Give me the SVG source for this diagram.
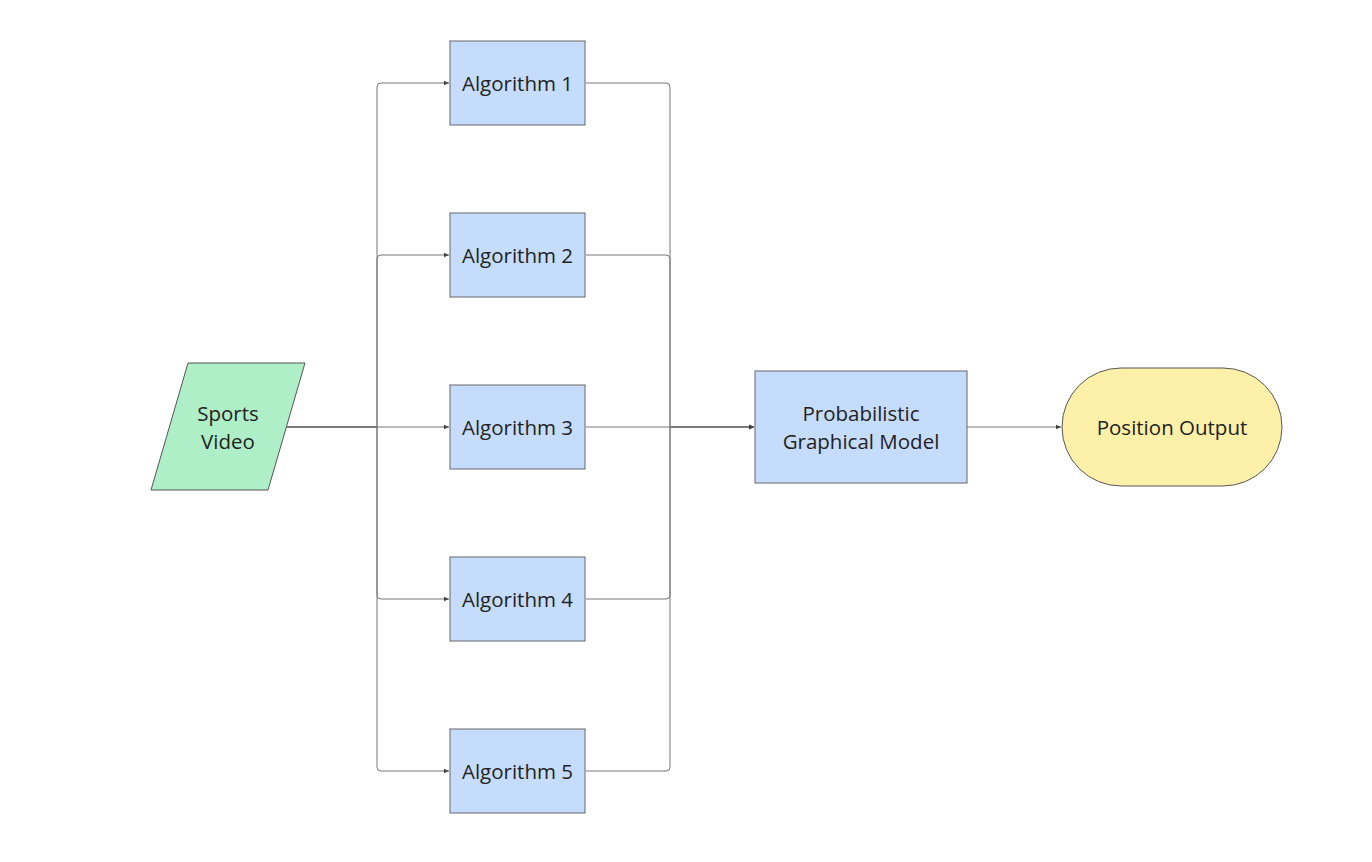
<svg xmlns="http://www.w3.org/2000/svg" width="1372" height="862" viewBox="0 0 1372 862">
<style>
.box{fill:#c6dcfc;stroke:#666;stroke-width:1}
.lbl{font-family:"Open Sans","Noto Sans",sans-serif;font-size:20.5px;fill:#222;text-anchor:middle;dominant-baseline:central}
.e{fill:none;stroke:#777;stroke-width:1}
</style>
<defs>
<marker id="arr" markerWidth="6" markerHeight="6" refX="5" refY="3" orient="auto" markerUnits="userSpaceOnUse">
<path d="M0,0.8 L5,3 L0,5.2 Z" fill="#444"/>
</marker>
</defs>
<rect width="1372" height="862" fill="#fff"/>
<g id="connectors">
<path class="e" d="M287,427 H377 V87 Q377,83 381,83 H449" marker-end="url(#arr)"/>
<path class="e" d="M287,427 H377 V259 Q377,255 381,255 H449" marker-end="url(#arr)"/>
<path class="e" d="M287,427 H449" marker-end="url(#arr)"/>
<path class="e" d="M287,427 H377 V595 Q377,599 381,599 H449" marker-end="url(#arr)"/>
<path class="e" d="M287,427 H377 V767 Q377,771 381,771 H449" marker-end="url(#arr)"/>
<path class="e" d="M586,83 H666 Q670,83 670,87 V427 H754" marker-end="url(#arr)"/>
<path class="e" d="M586,255 H666 Q670,255 670,259 V427 H754" marker-end="url(#arr)"/>
<path class="e" d="M586,427 H754" marker-end="url(#arr)"/>
<path class="e" d="M586,599 H666 Q670,599 670,595 V427 H754" marker-end="url(#arr)"/>
<path class="e" d="M586,771 H666 Q670,771 670,767 V427 H754" marker-end="url(#arr)"/>
<path class="e" d="M967,427 H1061" marker-end="url(#arr)"/>
</g>
<g id="sports-video">
<polygon points="188,363 305,363 268,490 151,490" fill="#aeefc8" stroke="#555" stroke-width="1"/>
<text class="lbl" x="228" y="413">Sports</text>
<text class="lbl" x="228" y="441">Video</text>
</g>
<g id="algorithm-1"><rect class="box" x="450" y="41" width="135" height="84"/><text class="lbl" x="517.5" y="83">Algorithm 1</text></g>
<g id="algorithm-2"><rect class="box" x="450" y="213" width="135" height="84"/><text class="lbl" x="517.5" y="255">Algorithm 2</text></g>
<g id="algorithm-3"><rect class="box" x="450" y="385" width="135" height="84"/><text class="lbl" x="517.5" y="427">Algorithm 3</text></g>
<g id="algorithm-4"><rect class="box" x="450" y="557" width="135" height="84"/><text class="lbl" x="517.5" y="599">Algorithm 4</text></g>
<g id="algorithm-5"><rect class="box" x="450" y="729" width="135" height="84"/><text class="lbl" x="517.5" y="771">Algorithm 5</text></g>
<g id="pgm">
<rect class="box" x="755" y="371" width="212" height="112"/>
<text class="lbl" x="861" y="413">Probabilistic</text>
<text class="lbl" x="861" y="441">Graphical Model</text>
</g>
<g id="position-output">
<rect x="1062" y="368" width="220" height="118" rx="59" ry="59" fill="#fdf0a8" stroke="#555" stroke-width="1"/>
<text class="lbl" x="1172" y="427">Position Output</text>
</g>
</svg>
